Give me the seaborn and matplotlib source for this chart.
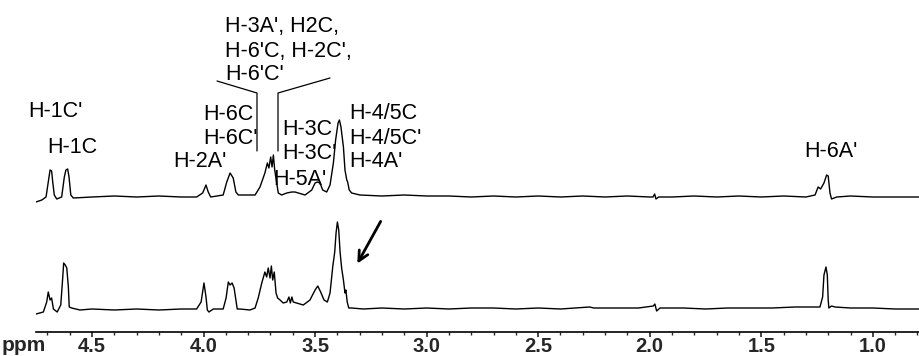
import numpy as np
import pandas as pd
import matplotlib
matplotlib.use("Agg")
import matplotlib.pyplot as plt
from matplotlib.ticker import MultipleLocator, FixedLocator
import seaborn as sns

# ---------------- data ----------------
# lower spectrum: chemical shift (ppm) and intensity (arbitrary units)
lower_ppm = [4.751, 4.718, 4.703, 4.696, 4.688, 4.681, 4.673, 4.656, 4.640, 4.631,
             4.627, 4.620, 4.613, 4.606, 4.602, 4.591, 4.554, 4.50, 4.40, 4.30,
             4.20, 4.10, 4.031, 4.011, 3.998, 3.989, 3.983, 3.976, 3.956, 3.912,
             3.899, 3.889, 3.881, 3.872, 3.863, 3.855, 3.849, 3.837, 3.792, 3.769,
             3.755, 3.739, 3.725, 3.717, 3.710, 3.702, 3.696, 3.690, 3.683, 3.675,
             3.668, 3.657, 3.643, 3.627, 3.617, 3.611, 3.604, 3.598, 3.583, 3.553,
             3.523, 3.500, 3.488, 3.475, 3.460, 3.445, 3.433, 3.421, 3.412, 3.406,
             3.400, 3.394, 3.388, 3.381, 3.373, 3.366, 3.362, 3.356, 3.349, 3.336,
             3.284, 3.20, 3.10, 3.00, 2.90, 2.80, 2.70, 2.60, 2.50, 2.40,
             2.27, 2.25, 2.15, 2.05, 1.984, 1.977, 1.969, 1.954, 1.85, 1.75,
             1.65, 1.55, 1.45, 1.35, 1.28, 1.237, 1.225, 1.219, 1.210, 1.204,
             1.200, 1.197, 1.185, 1.170, 1.10, 1.00, 0.90, 0.793]
lower_int = [-4, -2, 8, 18, 10, 12, 1, -2, 5, 33,
             47, 45, 42, 23, 3, 2, 0, 1, 0, 1,
             0, 1, 1, 8, 27, 13, 0, -2, 1, 1,
             12, 28, 25, 27, 22, 10, 1, 1, 0, 2,
             12, 27, 38, 33, 42, 32, 44, 30, 38, 17,
             12, 10, 7, 8, 13, 7, 13, 8, 7, 5,
             10, 20, 24, 18, 10, 8, 17, 43, 58, 77,
             88, 80, 58, 42, 30, 17, 20, 8, 2, 2,
             1, 2, 1, 2, 1, 2, 2, 1, 2, 1,
             3, 2, 2, 2, 4, 6, -1, 2, 2, 1,
             2, 2, 2, 3, 3, 3, 13, 35, 43, 35,
             10, 2, 4, 3, 2, 2, 1, 1]

# upper spectrum
upper_ppm = [4.751, 4.725, 4.706, 4.696, 4.688, 4.681, 4.676, 4.669, 4.658, 4.636,
             4.624, 4.617, 4.609, 4.603, 4.595, 4.584, 4.50, 4.40, 4.30, 4.20,
             4.10, 4.031, 4.004, 3.989, 3.979, 3.968, 3.912, 3.896, 3.881, 3.867,
             3.855, 3.844, 3.807, 3.769, 3.747, 3.725, 3.714, 3.707, 3.699, 3.693,
             3.687, 3.681, 3.672, 3.665, 3.650, 3.627, 3.605, 3.590, 3.575, 3.545,
             3.515, 3.500, 3.490, 3.478, 3.466, 3.448, 3.433, 3.418, 3.408, 3.397,
             3.391, 3.384, 3.373, 3.366, 3.358, 3.354, 3.347, 3.336, 3.299, 3.20,
             3.10, 3.00, 2.90, 2.80, 2.70, 2.60, 2.50, 2.40, 2.30, 2.20,
             2.10, 2.00, 1.985, 1.978, 1.972, 1.96, 1.90, 1.80, 1.70, 1.60,
             1.50, 1.40, 1.30, 1.259, 1.245, 1.234, 1.219, 1.207, 1.200, 1.192,
             1.185, 1.162, 1.10, 1.00, 0.90, 0.793]
upper_int = [-5, -3, 0, 15, 27, 26, 15, 2, -2, 0,
             20, 27, 28, 20, 2, -1, 0, 1, 0, 1,
             0, 0, 4, 12, 5, 0, 2, 15, 24, 19,
             5, 2, 2, 2, 10, 24, 34, 29, 40, 30,
             42, 27, 14, 4, 2, 4, 5, 5, 4, 2,
             7, 14, 15, 14, 7, 5, 12, 34, 57, 74,
             77, 70, 50, 27, 17, 15, 7, 4, 2, 1,
             2, 1, 1, 0, 1, 0, 1, 0, 1, 0,
             1, 0, 0, 3, -2, 0, 0, 1, 0, 1,
             0, 1, 0, 2, 10, 8, 14, 22, 21, 4,
             -2, 0, 1, 0, 0, 0]

major_ticks = [4.5, 4.0, 3.5, 3.0, 2.5, 2.0, 1.5, 1.0]
tick_labels = ["4.5", "4.0", "3.5", "3.0", "2.5", "2.0", "1.5", "1.0"]

# ---------------- figure ----------------
W, H = 919, 356
sns.set_style("white")
plt.rcParams["font.family"] = ["Liberation Sans", "DejaVu Sans"]

fig = plt.figure(figsize=(W / 100, H / 100), dpi=100)
ax_left, ax_bottom = 36, 331.5
ax = fig.add_axes([ax_left / W, (H - ax_bottom) / H, (W - ax_left) / W, ax_bottom / H])

upper_offset = 113
df = pd.concat([
    pd.DataFrame({"ppm": lower_ppm, "y": lower_int, "spectrum": "lower"}),
    pd.DataFrame({"ppm": upper_ppm, "y": np.array(upper_int) + upper_offset, "spectrum": "upper"}),
], ignore_index=True)

sns.lineplot(data=df, x="ppm", y="y", units="spectrum", estimator=None, sort=False,
             color="black", linewidth=1.0, ax=ax, legend=False)

ax.set_xlim(4.751, 0.793)
ax.set_ylim(-21.5, 310)
for s in ["top", "left", "right"]:
    ax.spines[s].set_visible(False)
ax.spines["bottom"].set_linewidth(1.2)
ax.spines["bottom"].set_color("black")
ax.set_yticks([])
ax.set_xlabel("")
ax.set_ylabel("")
ax.xaxis.set_major_locator(FixedLocator(major_ticks))
ax.set_xticklabels(tick_labels, fontsize=14.5, fontweight="bold")
ax.xaxis.set_minor_locator(MultipleLocator(0.1))
ax.tick_params(axis="x", which="major", direction="out", length=3.5, width=1.2, pad=0.5, bottom=True)
ax.tick_params(axis="x", which="minor", direction="out", length=2.0, width=1.0, bottom=True)

fig.text(2 / W, 1 - 351 / H, "ppm", fontsize=15, fontweight="bold", ha="left", va="baseline")

# ---------------- annotations ----------------
def fx(x):
    return x / W

def fy(y):
    return 1 - y / H

labels = [
    ("H-1C'", 28, 117), ("H-1C", 47, 153), ("H-2A'", 173, 167),
    ("H-6C", 203, 120), ("H-6C'", 203, 144),
    ("H-3A', H2C,", 225, 32), ("H-6'C, H-2C',", 225, 57), ("H-6'C'", 225, 80),
    ("H-3C", 282, 135), ("H-3C'", 282, 159), ("H-5A'", 273, 185),
    ("H-4/5C", 349, 119), ("H-4/5C'", 349, 144), ("H-4A'", 349, 167),
    ("H-6A'", 804, 157),
]
for t, x, y in labels:
    fig.text(fx(x), fy(y), t, fontsize=15.5, ha="left", va="baseline", color="black")

# bracket lines
fig.add_artist(plt.Line2D([fx(217), fx(257), fx(257)], [fy(81), fy(93), fy(151)],
                          color="black", linewidth=0.9))
fig.add_artist(plt.Line2D([fx(330), fx(278), fx(278)], [fy(78), fy(93), fy(151)],
                          color="black", linewidth=0.9))

# arrow
ax.annotate("", xy=(fx(356), fy(266)), xycoords="figure fraction",
            xytext=(fx(382), fy(219)), textcoords="figure fraction",
            arrowprops=dict(arrowstyle="->,head_length=0.7,head_width=0.35",
                            color="black", linewidth=2.0))

fig.savefig("out.png", dpi=100, facecolor="white")
